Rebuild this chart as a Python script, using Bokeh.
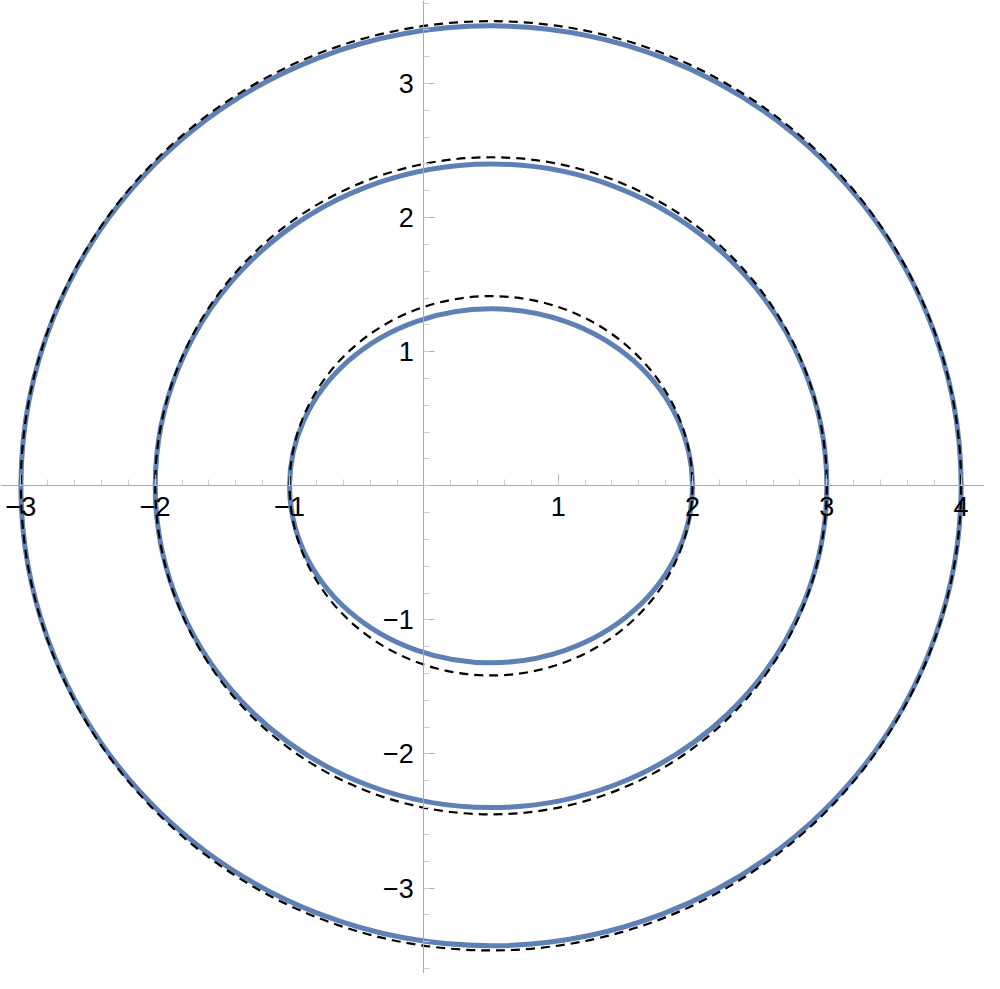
from bokeh.plotting import figure
from bokeh.models import Range1d, FixedTicker
from bokeh.embed import file_html
from bokeh.resources import INLINE

# data
center_x = [0.5, 0.5, 0.5]
oval_width = [3.0, 5.0, 7.0]          # blue curves, full width
oval_height = [2.64, 4.80, 6.86]      # blue curves, full height
dash_width = [3.0, 5.0, 7.0]          # dashed curves, full width
dash_height = [2.83, 4.90, 6.93]      # dashed curves, full height
x_ticks = [-3, -2, -1, 1, 2, 3, 4]
y_ticks = [-3, -2, -1, 1, 2, 3]
x_minor = [round(-3 + 0.2 * i, 1) for i in range(36)]
y_minor = [round(-3.6 + 0.2 * i, 1) for i in range(37)]

p = figure(width=984, height=973, output_backend="svg", toolbar_location=None,
           x_range=Range1d(-3.152, 4.174), y_range=Range1d(-3.637, 3.619),
           min_border=0, outline_line_color=None, background_fill_color="white")
p.grid.visible = False

p.ellipse(x=center_x, y=[0, 0, 0], width=oval_width, height=oval_height,
          fill_color=None, line_color="#5E81B5", line_width=5)
p.ellipse(x=center_x, y=[0, 0, 0], width=dash_width, height=dash_height,
          fill_color=None, line_color="black", line_width=2.2, line_dash="9 6")

minus = "\u2212"
for ax, ticks, minor in ((p.xaxis, x_ticks, x_minor), (p.yaxis, y_ticks, y_minor)):
    ax.fixed_location = 0
    ax.ticker = FixedTicker(ticks=ticks, minor_ticks=minor)
    ax.major_label_overrides = {t: (minus + str(-t)) if t < 0 else str(t) for t in ticks}
    ax.axis_line_color = "#AAAAAA"
    ax.axis_line_width = 1
    ax.major_tick_line_color = "#AAAAAA"
    ax.minor_tick_line_color = "#CCCCCC"
    ax.major_tick_in = 11
    ax.major_tick_out = 0
    ax.minor_tick_in = 6
    ax.minor_tick_out = 0
    ax.major_label_text_font = "Liberation Sans"
    ax.major_label_text_font_size = "27px"
    ax.major_label_text_color = "black"
p.xaxis.major_label_standoff = 11
p.yaxis.major_label_standoff = 10

open("out.html", "w").write(file_html(p, INLINE))
